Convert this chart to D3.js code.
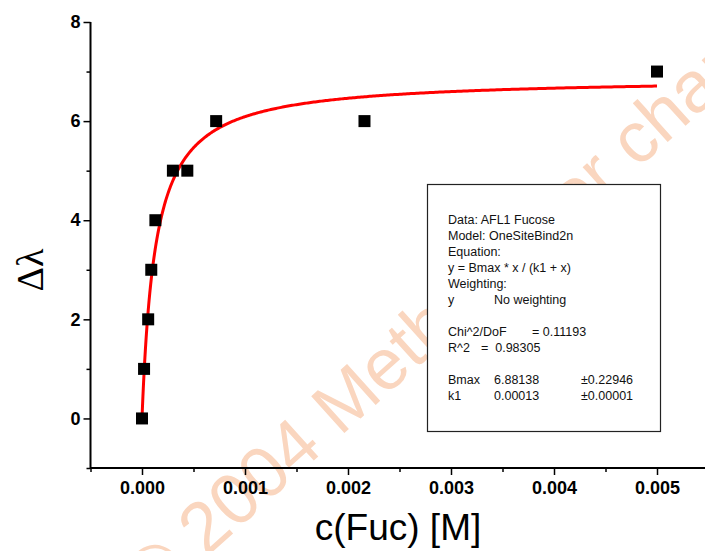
<!DOCTYPE html>
<html>
<head>
<meta charset="utf-8">
<script src="https://cdn.jsdelivr.net/npm/d3@7"></script>
<style>
  html, body { margin: 0; padding: 0; background: #fff; }
  svg { display: block; }
</style>
</head>
<body>
<svg id="chart" width="705" height="551"></svg>
<script>
// ---- data ----
const concentrations = [0, 0.00002, 0.00006, 0.00009, 0.00013, 0.0003, 0.00044, 0.00072, 0.00216, 0.005];
const deltaLambda    = [0, 1, 2, 3, 4, 5, 5, 6, 6, 7];
const xMajorTicks = [0, 0.001, 0.002, 0.003, 0.004, 0.005];
const xMinorTicks = [-0.0005, 0.0005, 0.0015, 0.0025, 0.0035, 0.0045];
const yMajorTicks = [0, 2, 4, 6, 8];
const yMinorTicks = [-1, 1, 3, 5, 7];
const fitBmax = 6.88138;
const fitK1 = 0.00013;
const fitRange = [0, 0.005];
const infoLines = [
  ["Data: AFL1 Fucose"],
  ["Model: OneSiteBind2n"],
  ["Equation:"],
  ["y = Bmax * x / (k1 + x)"],
  ["Weighting:"],
  ["y", "No weighting"],
  [""],
  ["Chi^2/DoF", "= 0.11193"],
  ["R^2", "=  0.98305"],
  [""],
  ["Bmax", "6.88138", "\u00b10.22946"],
  ["k1", "0.00013", "\u00b10.00001"]
];
const xTitle = "c(Fuc) [M]";
const yTitle = "\u0394\u03bb";
const watermark = "\u00a9 2004 Methods for charts";

// ---- layout ----
const svg = d3.select("#chart");
const x = d3.scaleLinear().domain([-0.0005, 0.0055]).range([90.5, 708.5]);
const y = d3.scaleLinear().domain([-1, 8]).range([468, 22]);

// watermark
svg.append("text")
  .attr("transform", "translate(310,464) rotate(-42)")
  .attr("x", -213)
  .attr("font-family", "Liberation Sans, Arial, sans-serif")
  .attr("font-size", 72)
  .attr("fill", "#fad6bf")
  .text(watermark);

// axes
const font = "Liberation Sans, Arial, sans-serif";
const xAxis = svg.append("g").attr("transform", `translate(0,${y(-1)})`)
  .call(d3.axisBottom(x).tickValues(xMajorTicks).tickSize(7).tickPadding(6)
        .tickFormat(d3.format(".3f")));
const xMinor = svg.append("g").attr("transform", `translate(0,${y(-1)})`)
  .call(d3.axisBottom(x).tickValues(xMinorTicks).tickSize(4).tickFormat(""));
const yAxis = svg.append("g").attr("transform", `translate(${x(-0.0005)},0)`)
  .call(d3.axisLeft(y).tickValues(yMajorTicks).tickSize(7).tickPadding(3)
        .tickFormat(d3.format("d")));
const yMinor = svg.append("g").attr("transform", `translate(${x(-0.0005)},0)`)
  .call(d3.axisLeft(y).tickValues(yMinorTicks).tickSize(4).tickFormat(""));

[xAxis, yAxis].forEach(g => {
  g.select(".domain").remove();
  g.selectAll("text").attr("font-family", font).attr("font-size", 18)
    .attr("font-weight", "bold").attr("fill", "#000");
});
[xMinor, yMinor].forEach(g => g.select(".domain").remove());
svg.selectAll(".tick line").attr("stroke", "#000").attr("stroke-width", 1.5);
xAxis.selectAll("text").attr("dy", "0.71em");

// axis lines
svg.append("line").attr("x1", x(-0.0005)).attr("x2", 705)
  .attr("y1", y(-1)).attr("y2", y(-1)).attr("stroke", "#000").attr("stroke-width", 2);
svg.append("line").attr("x1", x(-0.0005)).attr("x2", x(-0.0005))
  .attr("y1", y(8)).attr("y2", y(-1) + 1).attr("stroke", "#000").attr("stroke-width", 2);

// titles
svg.append("text").attr("x", 398).attr("y", 540).attr("text-anchor", "middle")
  .attr("font-family", font).attr("font-size", 37).attr("fill", "#000").text(xTitle);
svg.append("text").attr("transform", "translate(43,270) rotate(-90)")
  .attr("text-anchor", "middle").attr("font-family", "Liberation Serif, Times New Roman, serif")
  .attr("font-size", 38).attr("fill", "#000").text(yTitle);

// fit curve
const curveXs = d3.range(0, 401).map(i => fitRange[0] + (fitRange[1] - fitRange[0]) * Math.pow(i / 400, 2));
const line = d3.line().x(d => x(d)).y(d => y(fitBmax * d / (fitK1 + d)));
svg.append("path").datum(curveXs).attr("d", line)
  .attr("fill", "none").attr("stroke", "#ff0000").attr("stroke-width", 3);

// points
const sq = 12;
svg.selectAll("rect.pt").data(concentrations).enter().append("rect")
  .attr("class", "pt")
  .attr("x", d => x(d) - sq / 2)
  .attr("y", (d, i) => y(deltaLambda[i]) - sq / 2)
  .attr("width", sq).attr("height", sq).attr("fill", "#000");

// info box
const box = svg.append("g");
box.append("rect").attr("x", 427.5).attr("y", 184.5).attr("width", 233).attr("height", 247)
  .attr("fill", "#fff").attr("stroke", "#222").attr("stroke-width", 1.2);
const colX = {
  1: [448],
  2: [448, 494],
  3: [448, 494, 581]
};
infoLines.forEach((cols, i) => {
  let xs = colX[cols.length];
  if (cols[0] === "Chi^2/DoF") xs = [448, 532];
  if (cols[0] === "R^2") xs = [448, 481];
  cols.forEach((t, j) => {
    box.append("text").attr("x", xs[j]).attr("y", 224 + i * 16)
      .attr("font-family", font).attr("font-size", 12.5).attr("fill", "#111")
      .attr("xml:space", "preserve").style("white-space", "pre").text(t);
  });
});
</script>
</body>
</html>
